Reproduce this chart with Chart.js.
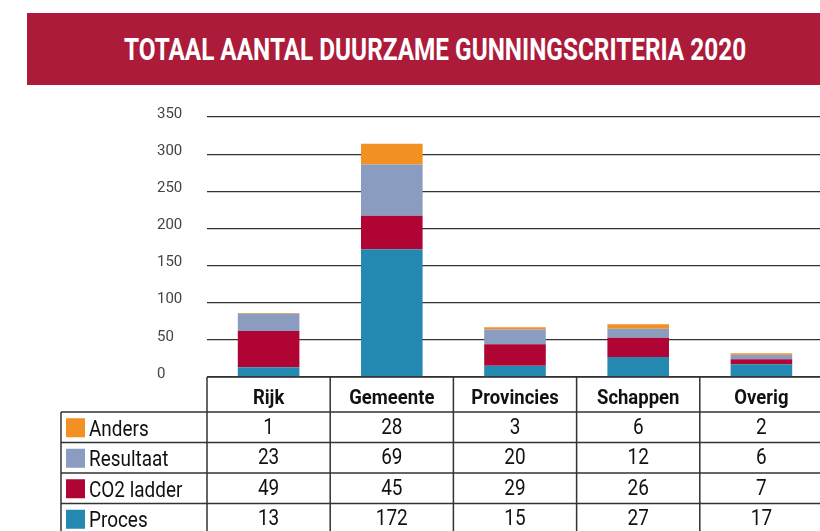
<!DOCTYPE html>
<html>
<head>
<meta charset="utf-8">
<script src="https://cdn.jsdelivr.net/npm/chart.js@4"></script>
<style>
  html, body { margin: 0; padding: 0; background: #fff; overflow: hidden; }
  #wrap { position: relative; width: 820px; height: 531px; overflow: hidden; }
  #banner {
    position: absolute; left: 27px; top: 13px; width: 800px; height: 72px;
    background: #ac1c3a;
  }
  #banner span {
    position: absolute; left: 408px; top: 50%;
    transform: translate(-50%, -50%) scaleX(0.785);
    white-space: nowrap; color: #fff;
    font: 700 31px Roboto, sans-serif; letter-spacing: 0;
  }
  canvas { position: absolute; left: 0; top: 0; }
</style>
</head>
<body>
<div id="wrap">
  <canvas id="chart" width="830" height="531"></canvas>
  <div id="banner"><span>TOTAAL AANTAL DUURZAME GUNNINGSCRITERIA 2020</span></div>
</div>
<script>
// categories and series
const categories = ['Rijk', 'Gemeente', 'Provincies', 'Schappen', 'Overig'];
const proces = [13, 172, 15, 27, 17];
const co2Ladder = [49, 45, 29, 26, 7];
const resultaat = [23, 69, 20, 12, 6];
const anders = [1, 28, 3, 6, 2];
const yMax = 350;
const yStep = 50;

const colors = {
    proces: '#2489b0',
    co2: '#b00434',
    resultaat: '#8a9cc0',
    anders: '#f39022'
};

// condensed text helper (no condensed font installed)
function drawText(ctx, text, x, y, font, align, squeeze) {
    ctx.save();
    ctx.font = font;
    ctx.textBaseline = 'middle';
    ctx.textAlign = align;
    ctx.translate(x, y);
    ctx.scale(squeeze, 1);
    ctx.fillText(text, 0, 0);
    ctx.restore();
}

// data table drawn under the bars, aligned with the x scale
const tablePlugin = {
    id: 'dataTable',
    afterDraw(chart) {
        const ctx = chart.ctx;
        const xs = chart.scales.x;
        const area = chart.chartArea;
        const colW = xs.getPixelForValue(1) - xs.getPixelForValue(0);
        const right = xs.getPixelForValue(categories.length - 1) + colW / 2;
        const labelLeft = 61;
        const headH = 35;
        const rowH = 30.5;
        const top = area.bottom;
        const rows = chart.data.datasets.slice().reverse();
        const bottom = chart.height + 5;

        ctx.save();
        ctx.strokeStyle = '#333';
        ctx.lineWidth = 1.5;
        ctx.beginPath();
        // horizontal lines
        ctx.moveTo(area.left, top);
        ctx.lineTo(right, top);
        for (let r = 0; r <= rows.length; r++) {
            const y = top + headH + r * rowH;
            ctx.moveTo(labelLeft, y);
            ctx.lineTo(right, y);
        }
        // vertical lines
        for (let i = 0; i <= categories.length; i++) {
            const x = area.left + i * colW;
            ctx.moveTo(x, top);
            ctx.lineTo(x, bottom);
        }
        ctx.moveTo(labelLeft, top + headH);
        ctx.lineTo(labelLeft, bottom);
        ctx.stroke();

        ctx.fillStyle = '#111';
        categories.forEach((c, i) => {
            drawText(ctx, c, xs.getPixelForValue(i), top + headH / 2 + 4,
                '700 21px Roboto, sans-serif', 'center', 0.88);
        });

        rows.forEach((ds, r) => {
            const yMid = top + headH + r * rowH + rowH / 2;
            ctx.fillStyle = ds.backgroundColor;
            ctx.fillRect(labelLeft + 5, yMid - 9, 19, 19);
            ctx.fillStyle = '#111';
            drawText(ctx, ds.label, labelLeft + 28, yMid + 3,
                '400 22px Roboto, sans-serif', 'left', 0.86);
            ds.data.forEach((v, i) => {
                drawText(ctx, String(v), xs.getPixelForValue(i), yMid + 1,
                    '400 22px Roboto, sans-serif', 'center', 0.86);
            });
        });
        ctx.restore();
    }
};

const ctx = document.getElementById('chart').getContext('2d');

new Chart(ctx, {
    type: 'bar',
    data: {
        labels: categories,
        datasets: [
            { label: 'Proces', data: proces, backgroundColor: colors.proces },
            { label: 'CO2 ladder', data: co2Ladder, backgroundColor: colors.co2 },
            { label: 'Resultaat', data: resultaat, backgroundColor: colors.resultaat },
            { label: 'Anders', data: anders, backgroundColor: colors.anders }
        ]
    },
    options: {
        responsive: false,
        animation: false,
        layout: {
            padding: { left: 157, right: 7, top: 117, bottom: 154 }
        },
        datasets: {
            bar: { categoryPercentage: 1, barPercentage: 0.5, borderWidth: 0 }
        },
        plugins: {
            legend: { display: false },
            title: { display: false }
        },
        scales: {
            x: {
                stacked: true,
                display: false
            },
            y: {
                stacked: true,
                min: 0,
                max: yMax,
                afterFit(scale) { scale.width = 50; },
                border: { display: false },
                grid: { color: '#333', lineWidth: 1.2, drawTicks: false },
                ticks: {
                    stepSize: yStep,
                    crossAlign: 'far',
                    labelOffset: -3,
                    color: '#444',
                    font: { family: 'Roboto', size: 15 }
                }
            }
        }
    },
    plugins: [tablePlugin]
});
</script>
</body>
</html>
